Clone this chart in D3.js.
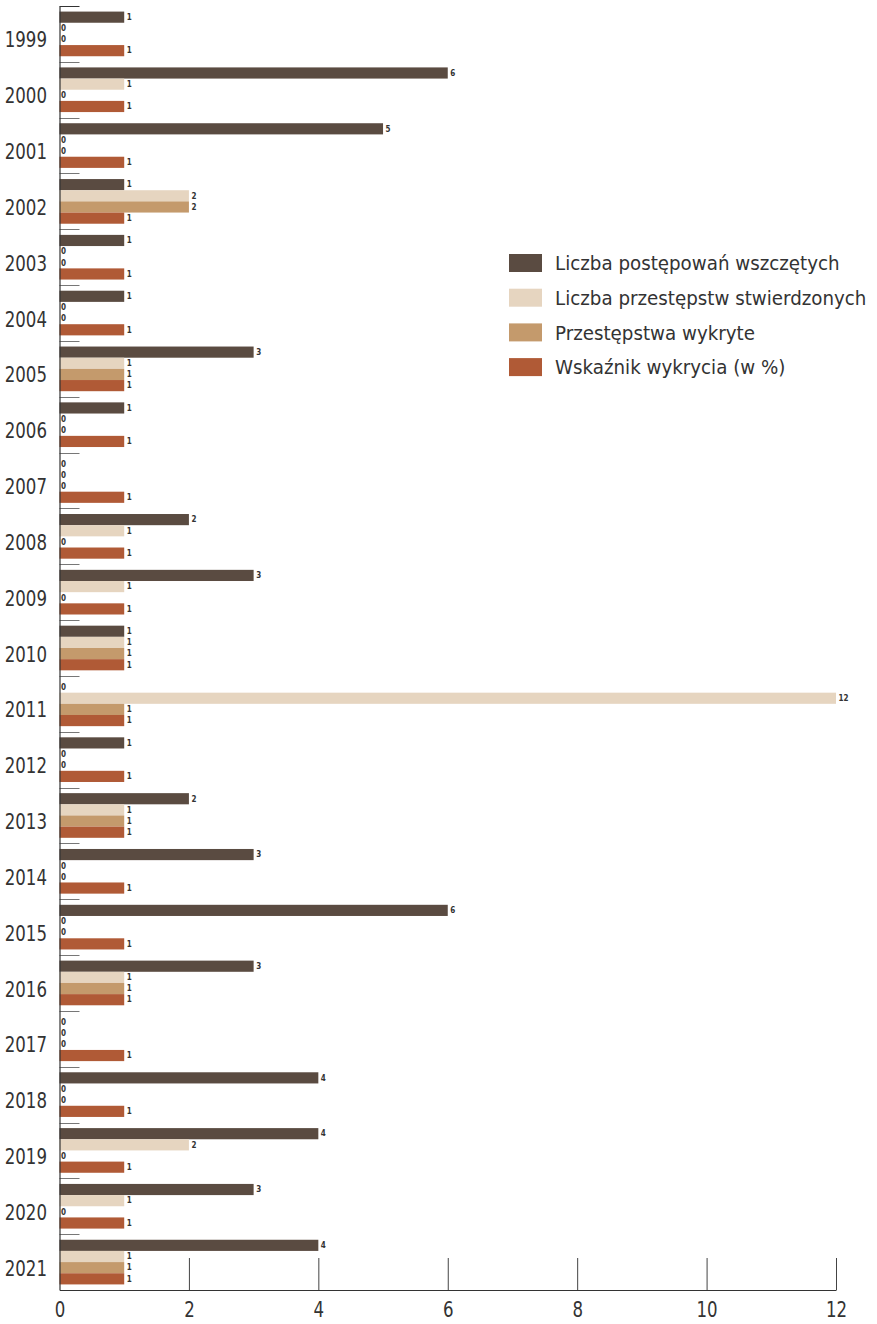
<!DOCTYPE html>
<html>
<head>
<meta charset="utf-8">
<script src="https://cdn.jsdelivr.net/npm/d3@7"></script>
<style>
  html, body { margin: 0; padding: 0; background: #fff; }
  svg { display: block; }
  text { font-family: "DejaVu Sans Condensed", "Liberation Sans Narrow", sans-serif; fill: #333; }
  .val { font-weight: bold; font-size: 8px; fill: #333; }
</style>
</head>
<body>
<svg id="chart" width="877" height="1324"></svg>
<script>
// Years on the vertical axis
const years = ["1999","2000","2001","2002","2003","2004","2005","2006","2007","2008","2009","2010",
               "2011","2012","2013","2014","2015","2016","2017","2018","2019","2020","2021"];

// Series names (legend order = bar order inside each year)
const seriesNames = [
  "Liczba postępowań wszczętych",
  "Liczba przestępstw stwierdzonych",
  "Przestępstwa wykryte",
  "Wskaźnik wykrycia (w %)"
];

const postepowania  = [1,6,5,1,1,1,3,1,0,2,3,1,0,1,2,3,6,3,0,4,4,3,4];
const stwierdzone   = [0,1,0,2,0,0,1,0,0,1,1,1,12,0,1,0,0,1,0,0,2,1,1];
const wykryte       = [0,0,0,2,0,0,1,0,0,0,0,1,1,0,1,0,0,1,0,0,0,0,1];
const wskaznik      = [1,1,1,1,1,1,1,1,1,1,1,1,1,1,1,1,1,1,1,1,1,1,1];

const xTicks = [0,2,4,6,8,10,12];

const colors = ["#5a4b41", "#e6d5c0", "#c49a6c", "#b05a36"];

const seriesValues = [postepowania, stwierdzone, wykryte, wskaznik];

// Narrow look for the axis numbers
const squeeze = 0.84;

const svg = d3.select("#chart");

const x = d3.scaleLinear().domain([0, 12]).range([59.5, 836]);
const y = d3.scaleBand().domain(years).range([6, 1290]).padding(0);
const inner = d3.scaleBand().domain(d3.range(4)).range([y.bandwidth() * 0.1, y.bandwidth() * 0.9]).padding(0);

// Bars
const groups = svg.append("g")
  .selectAll("g")
  .data(years)
  .join("g")
  .attr("transform", d => `translate(0,${y(d)})`);

groups.each(function(year, yi) {
  const g = d3.select(this);
  seriesValues.forEach((vals, si) => {
    const v = vals[yi];
    if (v > 0) {
      g.append("rect")
        .attr("x", x(0))
        .attr("y", inner(si))
        .attr("width", x(v) - x(0))
        .attr("height", inner.bandwidth())
        .attr("fill", colors[si]);
    }
    g.append("text")
      .attr("class", "val")
      .attr("x", x(v) + (v > 0 ? 2.5 : 1.5))
      .attr("y", inner(si) + inner.bandwidth() / 2)
      .attr("dy", "0.35em")
      .text(v);
  });
});

// Category separator ticks on the vertical axis
svg.append("g")
  .selectAll("line")
  .data(years)
  .join("line")
  .attr("x1", x(0))
  .attr("x2", x(0) + 20)
  .attr("y1", d => Math.round(y(d)) + 0.5)
  .attr("y2", d => Math.round(y(d)) + 0.5)
  .attr("stroke", (d, i) => i === 0 ? "#333" : "#777")
  .attr("stroke-width", 1);

// Vertical axis with year labels (set slightly below the band centre)
const yAxis = svg.append("g")
  .attr("transform", `translate(${x(0)},6.5)`)
  .call(d3.axisLeft(y).tickSize(0).tickPadding(0));
yAxis.select(".domain").attr("transform", "translate(0,-6.5)").attr("stroke", "#333").attr("stroke-width", 1.2);
yAxis.selectAll("text")
  .attr("font-size", 22)
  .attr("fill", "#333")
  .attr("x", -12.5 / squeeze)
  .attr("transform", `scale(${squeeze},1)`)
  .style("font-family", "\"DejaVu Sans Condensed\", sans-serif");

// Horizontal axis
const xAxis = svg.append("g")
  .attr("transform", "translate(0,1290)")
  .call(d3.axisBottom(x).tickValues(xTicks).tickSize(-32).tickSizeOuter(0).tickPadding(11).tickFormat(d3.format("d")));
xAxis.select(".domain").attr("stroke", "#333").attr("stroke-width", 1.2);
xAxis.selectAll(".tick line").attr("stroke", "#444");
xAxis.selectAll(".tick").filter(d => d === 0).select("line").remove();
xAxis.selectAll("text")
  .attr("font-size", 22)
  .attr("fill", "#333")
  .attr("transform", `scale(${squeeze},1)`)
  .style("font-family", "\"DejaVu Sans Condensed\", sans-serif");

// Legend
const legend = svg.append("g").attr("transform", "translate(509,254)");
const items = legend.selectAll("g")
  .data(seriesNames)
  .join("g")
  .attr("transform", (d, i) => `translate(0,${i * 34.7})`);
items.append("rect")
  .attr("width", 33)
  .attr("height", 18)
  .attr("fill", (d, i) => colors[i]);
items.append("text")
  .attr("x", 46)
  .attr("y", 9)
  .attr("dy", "0.35em")
  .attr("font-size", 20.3)
  .text(d => d);
</script>
</body>
</html>
